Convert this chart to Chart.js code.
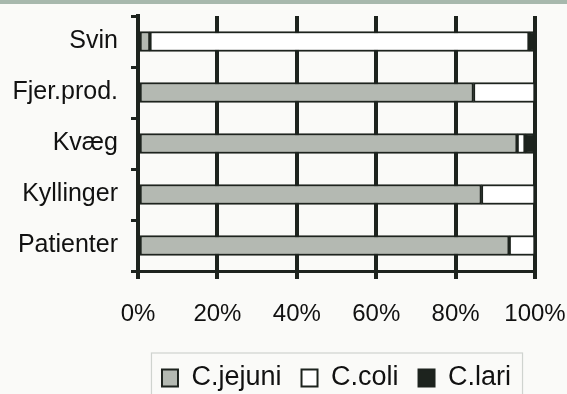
<!DOCTYPE html>
<html lang="da">
<head>
<meta charset="UTF-8">
<title>Campylobacter arter</title>
<style>
  html, body { margin: 0; padding: 0; background: #fafaf8; }
  #wrap { position: relative; width: 567px; height: 394px; }
  #topband { position: absolute; left: 0; top: 0; width: 567px; height: 4px; background: #a7b8ad; }
</style>
</head>
<body>
<div id="wrap">
  <canvas id="chart" width="567" height="394"></canvas>
  <div id="topband"></div>
</div>
<script src="https://cdn.jsdelivr.net/npm/chart.js"></script>
<script>
// data (percent of isolates)
const categories = ['Svin', 'Fjer.prod.', 'Kvæg', 'Kyllinger', 'Patienter'];
const jejuni = [3, 84.5, 95.5, 86.5, 93.5];
const coli = [95.5, 15.5, 2, 13.5, 6.5];
const lari = [1.5, 0, 2.5, 0, 0];
const xTicks = [0, 20, 40, 60, 80, 100];

const INK = '#1d231e';
const FONT = "'Liberation Sans', Arial, sans-serif";

function noPad(s) {
  s.paddingTop = 0; s.paddingBottom = 0; s.paddingLeft = 0; s.paddingRight = 0;
}

// places legend under the plot and draws its frame
const legendBox = {
  id: 'legendBox',
  afterLayout(chart) {
    const lg = chart.legend, ca = chart.chartArea;
    const w = lg.right - lg.left, h = lg.bottom - lg.top;
    const cx = (ca.left + ca.right) / 2;
    lg.left = cx - w / 2;
    lg.right = cx + w / 2;
    lg.top = 344.5;
    lg.bottom = lg.top + h;
  },
  afterDraw(chart) {
    const lg = chart.legend;
    const pad = lg.options.labels.padding;
    const lw = lg.lineWidths[0];
    const x0 = (lg.left + pad + lg.right - lw) / 2;
    const x1 = x0 + lw - pad;
    const ctx = chart.ctx;
    ctx.save();
    ctx.strokeStyle = '#cfd3cf';
    ctx.lineWidth = 1.2;
    ctx.strokeRect(x0 - 10.5, lg.top + 8.5, x1 - x0 + 22, 60);
    ctx.restore();
  }
};

new Chart(document.getElementById('chart'), {
  type: 'bar',
  data: {
    labels: categories,
    datasets: [
      { label: 'C.jejuni', data: jejuni, backgroundColor: '#b4b9b2' },
      { label: 'C.coli', data: coli, backgroundColor: '#ffffff' },
      { label: 'C.lari', data: lari, backgroundColor: INK }
    ].map(d => Object.assign(d, {
      borderColor: INK, borderWidth: 2, borderSkipped: false, barThickness: 20
    }))
  },
  options: {
    indexAxis: 'y',
    responsive: false,
    animation: false,
    layout: { padding: { top: 16, right: 32, bottom: 0, left: 0 } },
    scales: {
      x: {
        stacked: true, min: 0, max: 100,
        afterBuildTicks(s) { s.ticks = xTicks.map(v => ({ value: v })); },
        afterFit(s) {
          s.height = s.chart.height - 271 - (s.chart.legend ? s.chart.legend.height : 0);
          noPad(s);
        },
        ticks: { color: '#111', padding: 21, font: { family: FONT, size: 24 }, callback: v => v + '%' },
        grid: { color: INK, lineWidth: 4, tickLength: 8 },
        border: { display: true, color: INK, width: 3 }
      },
      y: {
        stacked: true,
        afterFit(s) { s.width = 138; noPad(s); },
        ticks: { color: '#111', padding: 13, font: { family: FONT, size: 25 } },
        grid: { offset: true, drawOnChartArea: false, color: INK, lineWidth: 3, tickLength: 7 },
        border: { display: true, color: INK, width: 4 }
      }
    },
    plugins: {
      legend: {
        position: 'bottom',
        labels: { color: '#111', boxWidth: 16, boxHeight: 17, padding: 20, font: { family: FONT, size: 27 } }
      },
      tooltip: { enabled: false }
    }
  },
  plugins: [legendBox]
});
</script>
</body>
</html>
